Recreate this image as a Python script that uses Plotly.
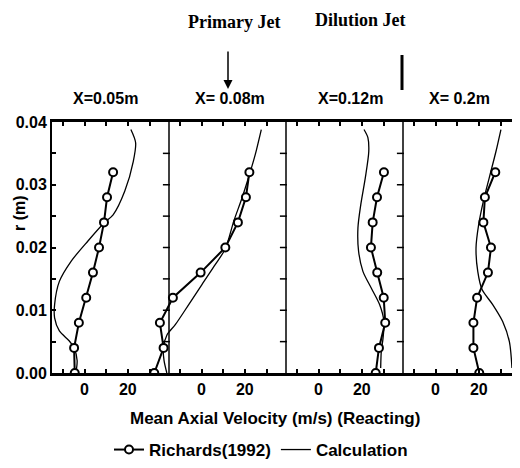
import plotly.graph_objects as go

# ---------------- data ----------------
panel_labels = ["X=0.05m", "X= 0.08m", "X=0.12m", "X= 0.2m"]

r_exp = [0.000, 0.004, 0.008, 0.012, 0.016, 0.020, 0.024, 0.028, 0.032]
v_exp_1 = [-4.5, -4.8, -2.6, 0.8, 3.9, 6.7, 9.0, 10.4, 13.2]
v_exp_2 = [-21.8, -17.5, -19.2, -13.2, -0.4, 11.0, 16.8, 20.5, 22.1]
v_exp_3 = [26.4, 27.9, 30.8, 30.1, 27.1, 24.2, 25.0, 27.0, 30.2]
v_exp_4 = [20.2, 17.5, 17.5, 19.2, 24.2, 25.6, 22.1, 22.8, 27.6]

r_calc_1 = [0.0000, 0.0020, 0.0040, 0.0051, 0.0067, 0.0088, 0.0109, 0.0146, 0.0178, 0.0210, 0.0239, 0.0252, 0.0290, 0.0337, 0.0367, 0.0388]
v_calc_1 = [-4.0, -3.4, -4.8, -7.0, -11.6, -13.8, -13.8, -11.6, -6.2, 1.5, 9.0, 13.2, 18.6, 22.5, 23.6, 21.4]

r_calc_2 = [0.0000, 0.0020, 0.0040, 0.0061, 0.0077, 0.0109, 0.0141, 0.0173, 0.0198, 0.0242, 0.0279, 0.0316, 0.0348, 0.0388]
v_calc_2 = [-16.0, -17.3, -17.6, -15.9, -12.1, -5.9, 0.2, 6.4, 11.0, 14.9, 18.7, 22.1, 24.8, 27.6]

r_calc_3 = [0.0008, 0.0035, 0.0056, 0.0082, 0.0109, 0.0135, 0.0162, 0.0194, 0.0231, 0.0268, 0.0311, 0.0353, 0.0375, 0.0388]
v_calc_3 = [28.7, 29.0, 29.8, 30.2, 28.2, 24.4, 20.5, 18.5, 18.2, 19.5, 21.6, 23.2, 22.8, 21.0]

r_calc_4 = [0.0008, 0.0050, 0.0082, 0.0109, 0.0133, 0.0162, 0.0199, 0.0236, 0.0274, 0.0311, 0.0353, 0.0388]
v_calc_4 = [35.3, 34.1, 31.0, 26.4, 21.5, 19.5, 18.7, 19.9, 22.1, 24.8, 27.9, 30.2]

x_tick_vals = [-10, 0, 10, 20, 30]
x_tick_text = ["", "0", "", "20", ""]
y_tick_vals = [0.0, 0.005, 0.01, 0.015, 0.02, 0.025, 0.03, 0.035, 0.04]
y_tick_text = ["0.00", "", "0.01", "", "0.02", "", "0.03", "", "0.04"]

# ---------------- layout constants ----------------
V_MIN, V_MAX = -15.0, 39.0
SPAN = V_MAX - V_MIN
N = 4
PAGE_OFF = 8                     # browser body margin
W, H = 520 - PAGE_OFF, 468 - PAGE_OFF
ML, MR, MT, MB = 52 - PAGE_OFF, 0, 122 - PAGE_OFF, 95
PW, PH = W - ML - MR, H - MT - MB

FONT = "Liberation Sans, Arial, sans-serif"
SERIF = "Liberation Serif, Times New Roman, serif"


def px_x(p):
    return (p - PAGE_OFF - ML) / PW


def px_y(p):
    return (H - MB - (p - PAGE_OFF)) / PH


exp_sets = [v_exp_1, v_exp_2, v_exp_3, v_exp_4]
calc_sets = [(r_calc_1, v_calc_1), (r_calc_2, v_calc_2), (r_calc_3, v_calc_3), (r_calc_4, v_calc_4)]

fig = go.Figure()

for k in range(N):
    off = k * SPAN
    rc, vc = calc_sets[k]
    fig.add_trace(go.Scatter(
        x=[v + off for v in vc], y=rc, mode="lines", name="Calculation",
        line=dict(color="black", width=1.3, shape="spline", smoothing=0.8),
        showlegend=False))
    fig.add_trace(go.Scatter(
        x=[v + off for v in exp_sets[k]], y=r_exp, mode="lines+markers",
        name="Richards(1992)",
        line=dict(color="black", width=2),
        marker=dict(symbol="circle", size=8, color="white",
                    line=dict(color="black", width=2)),
        showlegend=False))

# legend entries
fig.add_trace(go.Scatter(
    x=[None], y=[None], mode="lines+markers", name="Richards(1992)",
    line=dict(color="black", width=2),
    marker=dict(symbol="circle", size=8, color="white", line=dict(color="black", width=2))))
fig.add_trace(go.Scatter(
    x=[None], y=[None], mode="lines", name="Calculation",
    line=dict(color="black", width=1.3)))

# separator ticks (small marks on the left of each panel divider)
sep_x = []
sep_y = []
for k in range(1, N + 1):
    for yv in y_tick_vals[1:-1]:
        sep_x.append(V_MIN + k * SPAN - 1.2)
        sep_y.append(yv)
fig.add_trace(go.Scatter(
    x=sep_x, y=sep_y, mode="markers", showlegend=False, hoverinfo="skip",
    marker=dict(symbol="line-ew", size=5, line=dict(color="black", width=1.5))))

# x ticks for every panel
tv, tt = [], []
for k in range(N):
    for v, t in zip(x_tick_vals, x_tick_text):
        tv.append(v + k * SPAN)
        tt.append(t)

shapes = []
for k in range(1, N):
    xs = V_MIN + k * SPAN
    shapes.append(dict(type="line", xref="x", yref="paper", x0=xs, x1=xs, y0=0, y1=1,
                       line=dict(color="black", width=1.5)))
# dilution jet bar
shapes.append(dict(type="line", xref="paper", yref="paper",
                   x0=px_x(402), x1=px_x(402), y0=px_y(55), y1=px_y(90),
                   line=dict(color="black", width=3)))

annotations = []
centers = [105, 230, 350, 459]
for lbl, cx in zip(panel_labels, centers):
    annotations.append(dict(text=lbl, x=px_x(cx), y=px_y(98), xref="paper", yref="paper",
                            showarrow=False, xanchor="center", yanchor="middle",
                            font=dict(family=FONT, size=16, color="black", weight="bold")))
annotations.append(dict(text="Primary Jet", x=px_x(234), y=px_y(22), xref="paper", yref="paper",
                        showarrow=False, yanchor="middle",
                        font=dict(family=SERIF, size=18, color="black", weight="bold")))
annotations.append(dict(text="Dilution Jet", x=px_x(408), y=px_y(20), xref="paper", yref="paper",
                        showarrow=False, yanchor="middle",
                        font=dict(family=SERIF, size=18, color="black", weight="bold")))
annotations.append(dict(text="", x=px_x(228), y=px_y(89), xref="paper", yref="paper",
                        showarrow=True, ax=0, ay=-39, arrowhead=2, arrowsize=1.2,
                        arrowwidth=1.5, arrowcolor="black"))
annotations.append(dict(text="Mean Axial Velocity (m/s) (Reacting)", x=px_x(275), y=px_y(418),
                        xref="paper", yref="paper", showarrow=False,
                        xanchor="center", yanchor="middle",
                        font=dict(family=FONT, size=17, color="black", weight="bold")))
annotations.append(dict(text="r (m)", x=px_x(19), y=px_y(213), xref="paper", yref="paper",
                        showarrow=False, textangle=-90, xanchor="center", yanchor="middle",
                        font=dict(family=FONT, size=16, color="black", weight="bold")))

fig.update_layout(
    width=W, height=H,
    margin=dict(l=ML, r=MR, t=MT, b=MB, pad=0),
    paper_bgcolor="white", plot_bgcolor="white",
    xaxis=dict(range=[V_MIN, V_MIN + N * SPAN], tickvals=tv, ticktext=tt,
               ticks="inside", ticklen=4, tickwidth=1.5, tickcolor="black",
               showline=True, linewidth=3, linecolor="black", mirror="ticks",
               showgrid=False, zeroline=False,
               tickfont=dict(family=FONT, size=16, color="black", weight="bold")),
    yaxis=dict(range=[0, 0.04], tickvals=y_tick_vals, ticktext=y_tick_text,
               ticks="inside", ticklen=4, tickwidth=1.5, tickcolor="black",
               showline=True, linewidth=2, linecolor="black",
               showgrid=False, zeroline=False,
               tickfont=dict(family=FONT, size=16, color="black", weight="bold")),
    shapes=shapes,
    annotations=annotations,
    showlegend=True,
    legend=dict(orientation="h", x=px_x(261), xanchor="center", y=px_y(450), yanchor="middle",
                font=dict(family=FONT, size=17, color="black", weight="bold"),
                bgcolor="rgba(0,0,0,0)", itemwidth=30, traceorder="normal"),
)

fig.write_html("out.html")
